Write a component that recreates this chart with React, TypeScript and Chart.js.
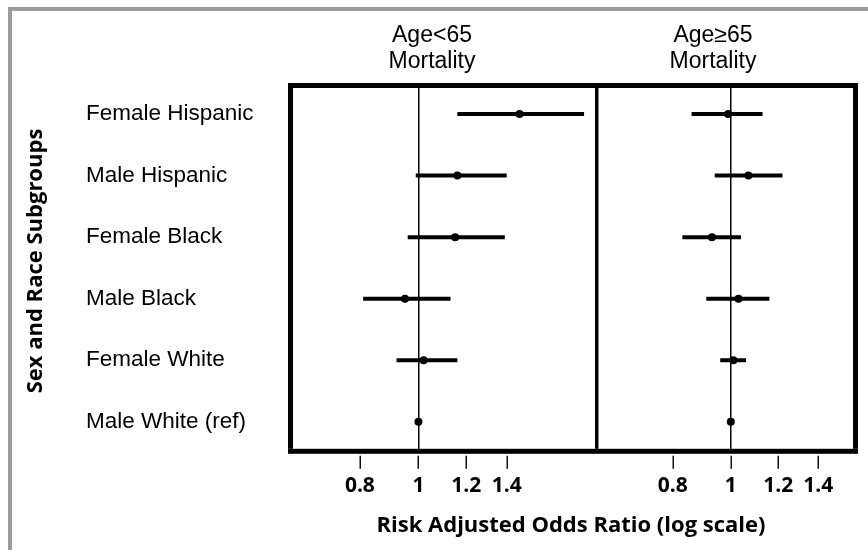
import React, { useEffect, useRef } from 'react';
import { Chart, registerables } from 'chart.js';

Chart.register(...registerables);

// ---- data ----
const categories = [
  'Female Hispanic',
  'Male Hispanic',
  'Female Black',
  'Male Black',
  'Female White',
  'Male White (ref)',
];
const tickValues = [0.8, 1, 1.2, 1.4];

const under65Or = [1.47, 1.16, 1.15, 0.95, 1.02, 1.0];
const under65Lo = [1.16, 0.99, 0.96, 0.81, 0.92, null];
const under65Hi = [1.88, 1.4, 1.39, 1.13, 1.16, null];

const over65Or = [0.99, 1.07, 0.93, 1.03, 1.01, 1.0];
const over65Lo = [0.86, 0.94, 0.83, 0.91, 0.96, null];
const over65Hi = [1.13, 1.22, 1.04, 1.16, 1.06, null];

const under65Title = ['Age<65', 'Mortality'];
const over65Title = ['Age\u226565', 'Mortality'];
const xTitleText = 'Risk Adjusted Odds Ratio (log scale)';
const yTitleText = 'Sex and Race Subgroups';

// ---- styling ----
const LABEL_FONT = '"Liberation Sans", Arial, sans-serif';
const BOLD_FONT = '"Open Sans", "DejaVu Sans", sans-serif';

const panelPlugin = {
  id: 'panelDecor',
  afterDraw(chart: any, _args: any, opts: any) {
    const { ctx, chartArea: ca } = chart;
    const xs = chart.scales.x;
    const b = opts.border;
    ctx.save();
    ctx.fillStyle = '#000';
    const L = ca.left - b.left;
    const R = ca.right + b.right;
    ctx.fillRect(L, ca.top - b.top, R - L, b.top);
    ctx.fillRect(L, ca.bottom, R - L, b.bottom);
    if (b.left) ctx.fillRect(L, ca.top, b.left, ca.bottom - ca.top);
    if (b.right) ctx.fillRect(ca.right, ca.top, b.right, ca.bottom - ca.top);

    // tick marks below the box, separated by a small gap
    ctx.strokeStyle = '#111';
    ctx.lineWidth = 1.5;
    xs.ticks.forEach((t: any) => {
      const px = Math.round(xs.getPixelForValue(t.value)) + 0.25;
      ctx.beginPath();
      ctx.moveTo(px, ca.bottom + opts.tickGap);
      ctx.lineTo(px, ca.bottom + opts.tickEnd);
      ctx.stroke();
    });

    // panel title
    ctx.fillStyle = '#000';
    ctx.font = `23px ${LABEL_FONT}`;
    ctx.textAlign = 'center';
    ctx.textBaseline = 'alphabetic';
    const cx = (ca.left + ca.right) / 2 + opts.titleShift;
    opts.title.forEach((line: string, i: number) => {
      ctx.fillText(line, cx, opts.titleBaseline + i * opts.titleLineGap);
    });

    if (opts.xTitle) {
      ctx.font = `bold 22px ${BOLD_FONT}`;
      ctx.textAlign = 'center';
      ctx.fillText(opts.xTitle.text, opts.xTitle.x, opts.xTitle.y);
    }
    if (opts.yTitle) {
      ctx.save();
      ctx.translate(opts.yTitle.x, opts.yTitle.y);
      ctx.rotate(-Math.PI / 2);
      ctx.font = `bold 22px ${BOLD_FONT}`;
      ctx.textAlign = 'center';
      ctx.textBaseline = 'alphabetic';
      ctx.fillText(opts.yTitle.text, 0, 0);
      ctx.restore();
    }
    ctx.restore();
  },
};

function buildDatasets(or: number[], lo: (number | null)[], hi: (number | null)[]) {
  const ds: any[] = [
    {
      label: 'OR',
      data: or.map((v, i) => ({ x: v, y: i })),
      pointRadius: 4,
      pointHoverRadius: 4,
      pointBackgroundColor: '#000',
      pointBorderWidth: 0,
      order: 0,
    },
  ];
  categories.forEach((_c, i) => {
    const l = lo[i];
    const h = hi[i];
    if (l == null || h == null) return;
    ds.push({
      label: 'CI ' + i,
      data: [
        { x: l, y: i },
        { x: h, y: i },
      ],
      showLine: true,
      borderColor: '#000',
      borderWidth: 4,
      borderCapStyle: 'butt',
      pointRadius: 0,
      pointHoverRadius: 0,
      order: 1,
    });
  });
  return ds;
}

function xScale(min: number, max: number) {
  return {
    type: 'logarithmic',
    min,
    max,
    afterBuildTicks: (scale: any) => {
      scale.ticks = tickValues.map((v) => ({ value: v }));
      scale.min = min;
      scale.max = max;
    },
    afterFit: (scale: any) => {
      scale.paddingLeft = 0;
      scale.paddingRight = 0;
    },
    ticks: {
      callback: (v: any) => String(v),
      autoSkip: false,
      maxRotation: 0,
      padding: 25,
      color: '#000',
      font: { family: BOLD_FONT, size: 21, weight: 'bold' },
    },
    grid: {
      drawTicks: false,
      lineWidth: 1.5,
      color: (c: any) => (c.tick && c.tick.value === 1 ? '#000' : 'rgba(0,0,0,0)'),
    },
    border: { display: false },
  };
}

function yScale(show: boolean) {
  return {
    type: 'linear',
    reverse: true,
    min: -0.4235,
    max: 5.44,
    display: show,
    afterBuildTicks: (scale: any) => {
      scale.ticks = categories.map((_c, i) => ({ value: i }));
    },
    afterFit: (scale: any) => {
      if (show) scale.width = 207;
      scale.paddingTop = 0;
      scale.paddingBottom = 0;
    },
    ticks: {
      callback: (v: any) => categories[v] ?? '',
      autoSkip: false,
      crossAlign: 'far',
      padding: 0,
      color: '#000',
      font: { family: LABEL_FONT, size: 22.5 },
    },
    grid: { display: false },
    border: { display: false },
  };
}

export default function App() {
  const leftRef = useRef<HTMLCanvasElement>(null);
  const rightRef = useRef<HTMLCanvasElement>(null);

  useEffect(() => {
    const common = {
      responsive: false,
      animation: false,
      events: [],
      devicePixelRatio: 1,
    };
    const left = new Chart(leftRef.current as HTMLCanvasElement, {
      type: 'scatter',
      data: { datasets: buildDatasets(under65Or, under65Lo, under65Hi) },
      options: {
        ...common,
        layout: { autoPadding: false, padding: { left: 86, right: 273, top: 88, bottom: 26 } },
        scales: { x: xScale(0.62, 1.96), y: yScale(true) } as any,
        plugins: {
          legend: { display: false },
          tooltip: { enabled: false },
          panelDecor: {
            border: { left: 5, right: 3.5, top: 5, bottom: 5 },
            tickGap: 7,
            tickEnd: 20,
            title: under65Title,
            titleShift: -12,
            titleBaseline: 41.5,
            titleLineGap: 26.7,
            xTitle: { text: xTitleText, x: 571, y: 532 },
            yTitle: { text: yTitleText, x: 42, y: 261 },
          },
        } as any,
      } as any,
      plugins: [panelPlugin],
    });
    const right = new Chart(rightRef.current as HTMLCanvasElement, {
      type: 'scatter',
      data: { datasets: buildDatasets(over65Or, over65Lo, over65Hi) },
      options: {
        ...common,
        layout: { autoPadding: false, padding: { left: 0, right: 15, top: 88, bottom: 26 } },
        scales: { x: xScale(0.6, 1.6), y: yScale(false) } as any,
        plugins: {
          legend: { display: false },
          tooltip: { enabled: false },
          panelDecor: {
            border: { left: 0, right: 5, top: 5, bottom: 5 },
            tickGap: 7,
            tickEnd: 20,
            title: over65Title,
            titleShift: -12.5,
            titleBaseline: 41.5,
            titleLineGap: 26.7,
          },
        } as any,
      } as any,
      plugins: [panelPlugin],
    });
    return () => {
      left.destroy();
      right.destroy();
    };
  }, []);

  return (
    <div style={{ position: 'absolute', left: 0, top: 0, width: 868, height: 550, background: '#fff' }}>
      <div
        style={{
          position: 'absolute',
          left: 8,
          top: 7,
          width: 860,
          height: 543,
          boxSizing: 'border-box',
          borderLeft: '4px solid #9c9c9c',
          borderTop: '4px solid #9c9c9c',
        }}
      />
      <canvas ref={leftRef} width={868} height={550} style={{ position: 'absolute', left: 0, top: 0 }} />
      <canvas ref={rightRef} width={270} height={550} style={{ position: 'absolute', left: 598, top: 0 }} />
    </div>
  );
}
